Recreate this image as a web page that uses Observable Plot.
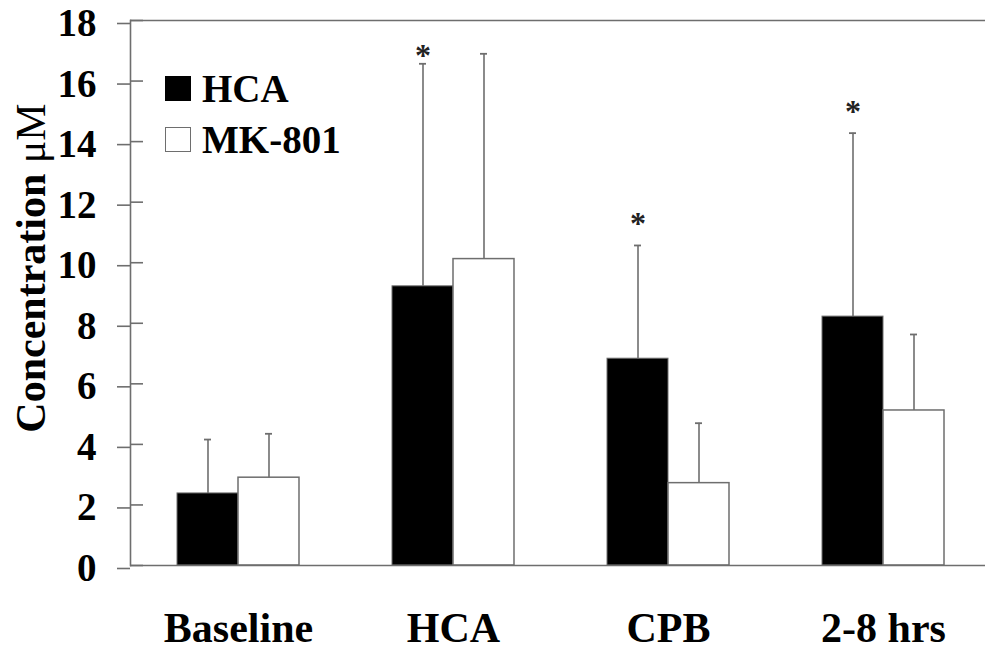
<!DOCTYPE html>
<html>
<head>
<meta charset="utf-8">
<script src="https://cdn.jsdelivr.net/npm/d3@7"></script>
<script src="https://cdn.jsdelivr.net/npm/@observablehq/plot@0.6"></script>
<style>
  html, body { margin: 0; padding: 0; background: #fff; }
  #wrap { position: relative; width: 985px; height: 654px; font-family: "Liberation Serif", "Times New Roman", serif; }
  .leg { position: absolute; left: 165px; font-weight: bold; font-size: 39px; color: #000; line-height: 1; }
  .leg .sw { position: absolute; left: 0; width: 26px; height: 25px; box-sizing: border-box; }
  .leg .lb { position: absolute; left: 37px; white-space: nowrap; }
</style>
</head>
<body>
<div id="wrap"></div>
<script>
// ---- data ----
const categories = ["Baseline", "HCA", "CPB", "2-8 hrs"];
const seriesNames = ["HCA", "MK-801"];
const hcaMean = [2.38, 9.22, 6.83, 8.22];
const hcaSD   = [1.78, 7.35, 3.74, 6.06];
const mkMean  = [2.90, 10.12, 2.72, 5.12];
const mkSD    = [1.45, 6.78, 1.98, 2.51];
// asterisk (significance) markers on HCA series, level
const starCats = ["HCA", "CPB", "2-8 hrs"];
const starLevel = [16.84, 11.28, 14.97];
const yTicks = [0, 2, 4, 6, 8, 10, 12, 14, 16, 18];

const hca = categories.map((c, i) => ({cat: c, mean: hcaMean[i], hi: hcaMean[i] + hcaSD[i]}));
const mk  = categories.map((c, i) => ({cat: c, mean: mkMean[i], hi: mkMean[i] + mkSD[i]}));
const stars = starCats.map((c, i) => ({cat: c, y: starLevel[i]}));

const W = 985, H = 654, ML = 130, MR = 0;
const half = 61;          // half of a group (one bar width)
const cap = 7;            // error-bar cap width
const lineCol = "#6e6e6e";

const plot = Plot.plot({
  width: W, height: H,
  marginLeft: ML, marginRight: MR, marginTop: 20, marginBottom: 89,
  style: {fontFamily: "'Liberation Serif', 'Times New Roman', serif", background: "#fff", color: "#000"},
  x: {domain: categories, range: [177, 944], paddingInner: 0.4326, paddingOuter: 0, round: false, label: null},
  y: {domain: [0, 18], label: null},
  marks: [
    // bars
    Plot.barY(hca, {x: "cat", y: "mean", fill: "#000", stroke: lineCol, strokeWidth: 1, insetRight: half}),
    Plot.barY(mk,  {x: "cat", y: "mean", fill: "#fff", stroke: lineCol, strokeWidth: 1.5, insetLeft: half}),
    // error bars
    Plot.ruleX(hca, {x: "cat", y1: "mean", y2: "hi", dx: -half / 2, stroke: lineCol, strokeWidth: 1.6}),
    Plot.ruleX(mk,  {x: "cat", y1: "mean", y2: "hi", dx: half / 2, stroke: lineCol, strokeWidth: 1.6}),
    Plot.tickY(hca, {x: "cat", y: "hi", insetLeft: half / 2 - cap / 2, insetRight: 2 * half - half / 2 - cap / 2, stroke: lineCol, strokeWidth: 1.8}),
    Plot.tickY(mk,  {x: "cat", y: "hi", insetLeft: 2 * half - half / 2 - cap / 2, insetRight: half / 2 - cap / 2, stroke: lineCol, strokeWidth: 1.8}),
    // asterisks
    Plot.text(stars, {x: "cat", y: "y", text: () => "*", dx: -half / 2, fontSize: 32, fontWeight: "bold", fill: "#222"}),
    // frame lines
    Plot.ruleY([0, 18], {stroke: lineCol, strokeWidth: 1.6}),
    Plot.frame({anchor: "left", stroke: lineCol, strokeWidth: 1.6}),
    // inward half of the crossing ticks
    Plot.tickY(yTicks, {y: d => d, insetRight: (W - ML - MR) - 13, stroke: lineCol, strokeWidth: 1.6}),
    // axes
    Plot.axisY({ticks: yTicks, tickSize: 13, tickPadding: 21, stroke: lineCol, strokeWidth: 1.6,
                fontSize: 39, fontWeight: "bold", dy: 3, label: null, color: "#000"}),
    Plot.axisX({tickSize: 0, tickPadding: 47, fontSize: 42, fontWeight: "bold", label: null})
  ]
});

const wrap = document.getElementById("wrap");
wrap.appendChild(plot);

// y-axis title with mixed weight
const svg = d3.select(plot);
const t = svg.append("text")
  .attr("transform", "translate(45,268) rotate(-90)")
  .attr("text-anchor", "middle")
  .attr("font-family", "'Liberation Serif', 'Times New Roman', serif")
  .attr("font-size", 42)
  .attr("fill", "#000");
t.append("tspan").attr("font-weight", "bold").text("Concentration ");
t.append("tspan").attr("font-weight", "normal").text("μM");

// legend
const legTops = [76, 127];
seriesNames.forEach((name, i) => {
  const d = document.createElement("div");
  d.className = "leg";
  d.style.top = legTops[i] + "px";
  const sw = document.createElement("div");
  sw.className = "sw";
  sw.style.top = "0px";
  sw.style.background = i === 0 ? "#000" : "#fff";
  sw.style.border = i === 0 ? "none" : "1.5px solid " + lineCol;
  const lb = document.createElement("div");
  lb.className = "lb";
  lb.style.top = "-7px";
  lb.textContent = name;
  d.appendChild(sw); d.appendChild(lb);
  wrap.appendChild(d);
});
</script>
</body>
</html>
